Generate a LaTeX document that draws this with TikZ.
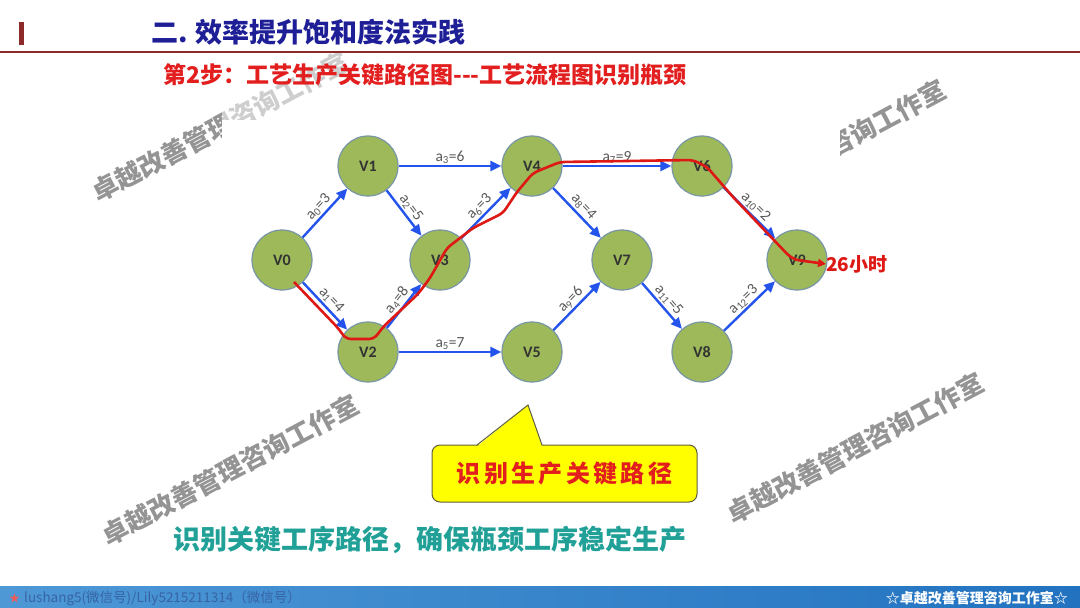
\documentclass[tikz,border=0pt]{standalone}
\usepackage{fontspec}
\setmainfont{Carlito}
\newfontfamily\cjk{Noto Sans CJK SC}
\usetikzlibrary{arrows.meta}

\definecolor{navytitle}{RGB}{30,30,150}
\definecolor{steptext}{RGB}{226,30,30}
\definecolor{barred}{RGB}{140,42,42}
\definecolor{vgreen}{RGB}{157,185,90}
\definecolor{vborder}{RGB}{120,150,165}
\definecolor{arcblue}{RGB}{36,84,236}
\definecolor{critred}{RGB}{222,24,20}
\definecolor{calloutyel}{RGB}{255,255,0}
\definecolor{calloutln}{RGB}{95,95,60}
\definecolor{tealtext}{RGB}{32,160,150}
\definecolor{footL}{RGB}{78,152,214}
\definecolor{footM}{RGB}{212,230,243}
\definecolor{footR}{RGB}{34,114,192}
\definecolor{foottext}{RGB}{55,100,165}

\newcommand\setfs[1]{\fontsize{#1}{#1}\selectfont}

\begin{document}
\begin{tikzpicture}[x=1pt, y=-1pt,
    vtx/.style={circle, draw=vborder, line width=1.2pt, fill=vgreen, minimum size=60pt,
      inner sep=0pt, font=\bfseries\setfs{16}, text=black!80},
    edge/.style={draw=arcblue, line width=2.4pt, -{Triangle[length=11pt,width=10pt]}},
    elab/.style={font=\setfs{15.5}, text=black!65, inner sep=1.5pt, sloped, above},
    critpath/.style={draw=critred, line width=2.6pt, rounded corners=5pt},
    wmark/.style={font=\cjk\bfseries\setfs{26}, text=black!42, rotate=28}]
  \useasboundingbox (0,0) rectangle (1080,608);

  % footer bar
  \shade[left color=footL, middle color=footM, right color=footR] (0,586) rectangle (1080,608);
  \node[anchor=west, inner sep=0pt, font=\cjk\setfs{11}, text=critred!70] (star) at (9,598) {★};
  \node[anchor=west, inner sep=0pt, font=\cjk\setfs{13.5}, text=foottext] (wx) at (24,598)
    {lushang5(微信号)/Lily5215211314（微信号）};
  \node[anchor=east, inner sep=0pt, font=\cjk\bfseries\setfs{14}, text=white] (studio) at (1068,598)
    {☆卓越改善管理咨询工作室☆};

  % watermarks
  \node[wmark] (wm1) at (220,127) {卓越改善管理咨询工作室};
  \node[wmark] (wm2) at (817,155) {卓越改善管理咨询工作室};
  \node[wmark] (wm3) at (230,470) {卓越改善管理咨询工作室};
  \node[wmark] (wm4) at (855,448) {卓越改善管理咨询工作室};
  \fill[white, opacity=0.55] (222,25) rectangle (840,120);

  % heading
  \fill[barred] (19,22) rectangle (24,45);
  \draw[barred, line width=1.5pt] (0,52) -- (1080,52);
  \node[anchor=west, inner sep=0pt, font=\cjk\bfseries\setfs{27}, text=navytitle] (title) at (151,32)
    {二. 效率提升饱和度法实践};
  \node[anchor=west, inner sep=0pt, font=\cjk\bfseries\setfs{23}, text=steptext] (step2) at (163,75)
    {第2步：工艺生产关键路径图---工艺流程图识别瓶颈};

  % network picture
  \fill[white] (222,120) rectangle (840,390);
  \node[vtx] (V0) at (282,260) {V0};
  \node[vtx] (V1) at (368,166) {V1};
  \node[vtx] (V2) at (368,352) {V2};
  \node[vtx] (V3) at (440,260) {V3};
  \node[vtx] (V4) at (532,166) {V4};
  \node[vtx] (V5) at (532,352) {V5};
  \node[vtx] (V6) at (702,166) {V6};
  \node[vtx] (V7) at (622,260) {V7};
  \node[vtx] (V8) at (702,352) {V8};
  \node[vtx] (V9) at (797,260) {V9};

  \draw[edge] (V0) -- node[elab] {a\textsubscript{0}=3} (V1);
  \draw[edge] (V0) -- node[elab] {a\textsubscript{1}=4} (V2);
  \draw[edge] (V1) -- node[elab] {a\textsubscript{2}=5} (V3);
  \draw[edge] (V1) -- node[elab] {a\textsubscript{3}=6} (V4);
  \draw[edge] (V2) -- node[elab] {a\textsubscript{4}=8} (V3);
  \draw[edge] (V2) -- node[elab] {a\textsubscript{5}=7} (V5);
  \draw[edge] (V3) -- node[elab] {a\textsubscript{6}=3} (V4);
  \draw[edge] (V4) -- node[elab] {a\textsubscript{7}=9} (V6);
  \draw[edge] (V4) -- node[elab] {a\textsubscript{8}=4} (V7);
  \draw[edge] (V5) -- node[elab] {a\textsubscript{9}=6} (V7);
  \draw[edge] (V6) -- node[elab] {a\textsubscript{10}=2} (V9);
  \draw[edge] (V7) -- node[elab] {a\textsubscript{11}=5} (V8);
  \draw[edge] (V8) -- node[elab] {a\textsubscript{12}=3} (V9);

  % critical path, hand drawn
  \node[anchor=west, inner sep=0pt, font=\cjk\bfseries\setfs{19}, text=critred] (hrs) at (826,264) {26小时};
  \draw[critpath] (294,282) -- (338,328) -- (346,339) -- (374,339) -- (384,326) -- (418,294)
    -- (430,278) -- (447,248) -- (473,228) -- (503,213) -- (517,192) -- (533,173) -- (560,162)
    -- (693,160) -- (707,167) -- (733,197) -- (790,257) -- (V9.center);
  \draw[critpath, -{Triangle[length=8pt,width=8pt]}] (V9.center) -- (hrs.west);

  % callout
  \node[draw=calloutln, line width=1pt, fill=calloutyel, rounded corners=8pt, minimum width=265pt,
    minimum height=57pt, font=\cjk\bfseries\setfs{24}, text=steptext] (keypath) at (564.5,473.5)
    {\addfontfeature{LetterSpace=14}识别生产关键路径};
  \fill[calloutyel] (477,446.5) -- (528,405) -- (542,446.5) -- cycle;
  \draw[calloutln, line width=1pt] (477,445) -- (528,405) -- (542,445);

  \node[font=\cjk\bfseries\setfs{27}, text=tealtext, inner sep=0pt] (goal) at (430,540)
    {识别关键工序路径，确保瓶颈工序稳定生产};
\end{tikzpicture}
\end{document}
